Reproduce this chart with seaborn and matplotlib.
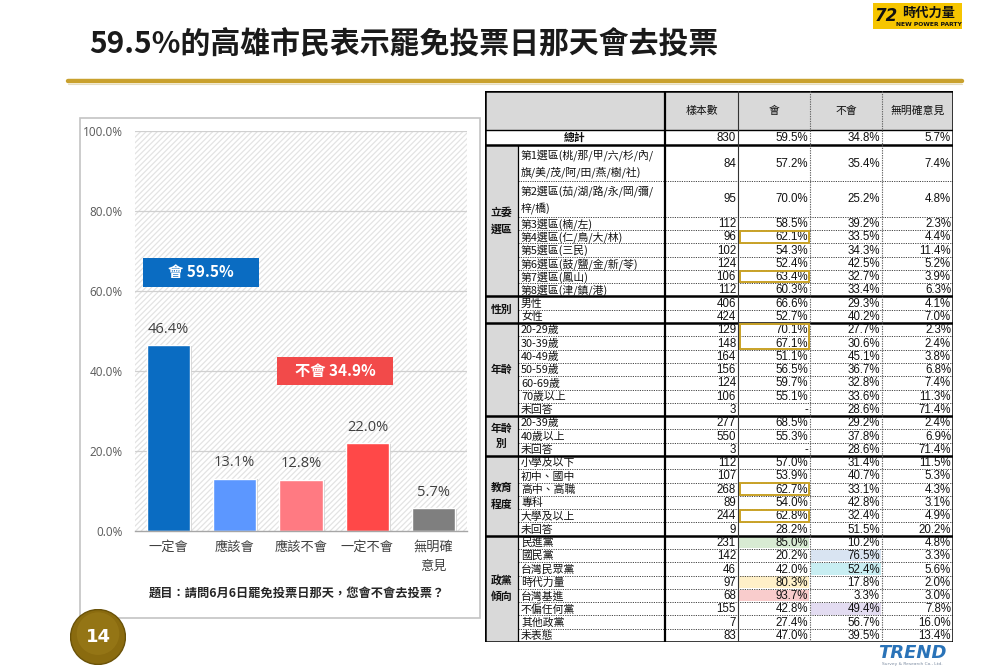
import matplotlib
matplotlib.use("Agg")
import matplotlib.pyplot as plt
import matplotlib.patheffects as pe
from matplotlib.patches import Rectangle, Circle
import seaborn as sns
import pandas as pd

# ---------------- data ----------------
title = "59.5%的高雄市民表示罷免投票日那天會去投票"
bar_cats = ["一定會", "應該會", "應該不會", "一定不會", "無明確\n意見"]
bar_vals = [46.4, 13.1, 12.8, 22.0, 5.7]
bar_colors = ["#0a6cc2", "#5c97ff", "#ff7a82", "#ff4848", "#7f7f7f"]
total_yes = 59.5
total_no = 34.9
yticks = [0, 20, 40, 60, 80, 100]
question = "題目：請問6月6日罷免投票日那天，您會不會去投票？"

table_header = ["樣本數", "會", "不會", "無明確意見"]
total_row = ["總計", 830, 59.5, 34.8, 5.7]

group_names = ["立委\n選區", "性別", "年齡", "年齡\n別", "教育\n程度", "政黨\n傾向"]
group_sizes = [8, 2, 7, 3, 6, 8]
row_labels = [
    "第1選區(桃/那/甲/六/杉/內/\n旗/美/茂/阿/田/燕/樹/社)",
    "第2選區(茄/湖/路/永/岡/彌/\n梓/橋)",
    "第3選區(楠/左)", "第4選區(仁/鳥/大/林)", "第5選區(三民)",
    "第6選區(鼓/鹽/金/新/苓)", "第7選區(鳳山)", "第8選區(津/鎮/港)",
    "男性", "女性",
    "20-29歲", "30-39歲", "40-49歲", "50-59歲", "60-69歲", "70歲以上", "未回答",
    "20-39歲", "40歲以上", "未回答",
    "小學及以下", "初中、國中", "高中、高職", "專科", "大學及以上", "未回答",
    "民進黨", "國民黨", "台灣民眾黨", "時代力量", "台灣基進", "不偏任何黨", "其他政黨", "未表態",
]
sample_n = [84, 95, 112, 96, 102, 124, 106, 112,
            406, 424,
            129, 148, 164, 156, 124, 106, 3,
            277, 550, 3,
            112, 107, 268, 89, 244, 9,
            231, 142, 46, 97, 68, 155, 7, 83]
pct_yes = [57.2, 70.0, 58.5, 62.1, 54.3, 52.4, 63.4, 60.3,
           66.6, 52.7,
           70.1, 67.1, 51.1, 56.5, 59.7, 55.1, None,
           68.5, 55.3, None,
           57.0, 53.9, 62.7, 54.0, 62.8, 28.2,
           85.0, 20.2, 42.0, 80.3, 93.7, 42.8, 27.4, 47.0]
pct_no = [35.4, 25.2, 39.2, 33.5, 34.3, 42.5, 32.7, 33.4,
          29.3, 40.2,
          27.7, 30.6, 45.1, 36.7, 32.8, 33.6, 28.6,
          29.2, 37.8, 28.6,
          31.4, 40.7, 33.1, 42.8, 32.4, 51.5,
          10.2, 76.5, 52.4, 17.8, 3.3, 49.4, 56.7, 39.5]
pct_na = [7.4, 4.8, 2.3, 4.4, 11.4, 5.2, 3.9, 6.3,
          4.1, 7.0,
          2.3, 2.4, 3.8, 6.8, 7.4, 11.3, 71.4,
          2.4, 6.9, 71.4,
          11.5, 5.3, 4.3, 3.1, 4.9, 20.2,
          4.8, 3.3, 5.6, 2.0, 3.0, 7.8, 16.0, 13.4]
# highlighted "會" cells (row index ranges, inclusive)
gold_boxes = [(3, 3), (6, 6), (10, 11), (22, 22), (24, 24)]
# shaded cells: (row index, column index 1=會 2=不會, colour)
shaded = [(26, 1, "#d8ebd3"), (27, 2, "#d9e4f2"), (28, 2, "#c8eef2"),
          (29, 1, "#fff0c8"), (30, 1, "#f9cccc"), (31, 2, "#e3dcf1")]

# ---------------- figure ----------------
sns.set_theme(style="white")
plt.rcParams["font.family"] = ["Noto Sans CJK TC", "DejaVu Sans"]
plt.rcParams["hatch.linewidth"] = 0.9
plt.rcParams["hatch.color"] = "#e3e3e3"

W, H = 1000, 667
fig = plt.figure(figsize=(10, 6.67), dpi=100)
fig.patch.set_facecolor("white")

def fx(x):
    return x / W

def fy(y):
    return 1 - y / H

# title and gold rule
fig.text(fx(89), fy(43), title, fontsize=21.5, fontweight="bold", color="#1a1a1a",
         ha="left", va="center")
fig.add_artist(plt.Line2D([fx(68), fx(962)], [fy(81), fy(81)], color="#c9a12e", lw=3.2))
fig.add_artist(plt.Line2D([fx(68), fx(962)], [fy(83.5), fy(83.5)], color="#e6dcc0", lw=0.8))

# top-right logo
fig.add_artist(Rectangle((fx(873), fy(29)), fx(89), 26 / H, facecolor="#f6c500",
                         edgecolor="none", transform=fig.transFigure))
fig.text(fx(886), fy(16), "72", fontsize=12, color="#111111", fontweight="heavy",
         ha="center", va="center", style="italic", family="DejaVu Sans")
fig.text(fx(929), fy(12.5), "時代力量", fontsize=9.5, fontweight="bold", color="#111111",
         ha="center", va="center")
fig.text(fx(929), fy(24), "NEW POWER PARTY", fontsize=4.3, fontweight="bold",
         color="#111111", ha="center", va="center", family="DejaVu Sans")

# bottom-right logo
fig.text(fx(912), fy(653), "TREND", fontsize=13, fontweight="bold", style="italic",
         color="#2a73b8", ha="center", va="center", family="DejaVu Sans")
fig.text(fx(912), fy(664), "Survey & Research Co., Ltd.", fontsize=3.2, color="#7a8aa0",
         ha="center", va="center", family="DejaVu Sans")

# chart frame
fig.add_artist(Rectangle((fx(80), fy(618)), fx(400), 500 / H, facecolor="white",
                         edgecolor="#c4c4c4", lw=1.2, transform=fig.transFigure, zorder=0))

# ---------------- bar chart ----------------
ax = fig.add_axes([fx(135), fy(531), fx(332), 400 / H])
ax.set_facecolor("none")
df = pd.DataFrame({"cat": bar_cats, "val": bar_vals})
sns.barplot(data=df, x="cat", y="val", hue="cat", palette=bar_colors, legend=False,
            width=0.65, saturation=1, ax=ax, zorder=3)
for p in ax.patches:
    p.set_path_effects([pe.SimplePatchShadow(offset=(1.5, -0.5), shadow_rgbFace="#c8c8c8",
                                             alpha=0.8), pe.Normal()])
bg = Rectangle((0, 0), 1, 1, transform=ax.transAxes, facecolor="white",
               edgecolor="#e3e3e3", hatch="//////", linewidth=0, zorder=0.5)
ax.add_artist(bg)
ax.set_xlim(-0.5, 4.5)
ax.set_ylim(0, 100)
ax.set_yticks(yticks)
ax.set_yticklabels([f"{v:.1f}%" for v in yticks], fontsize=8.5, color="#595959",
                   family=["Open Sans", "Noto Sans CJK TC"])
ax.tick_params(axis="y", length=0, pad=9)
ax.tick_params(axis="x", length=0, pad=7)
ax.set_xticks(range(len(bar_cats)))
ax.set_xticklabels(bar_cats, fontsize=9.5, color="#404040", linespacing=1.6, va="top")
for v in yticks[1:]:
    ax.axhline(v, color="#d0d0d0", lw=0.9, zorder=1)
for s in ["top", "right", "left"]:
    ax.spines[s].set_visible(False)
ax.spines["bottom"].set_color("#a6a6a6")
ax.spines["bottom"].set_linewidth(1.0)
ax.spines["bottom"].set_zorder(4)
ax.set_xlabel("")
ax.set_ylabel("")
for i, v in enumerate(bar_vals):
    ax.annotate(f"{v:.1f}%", (i, v), xytext=(0, 6), textcoords="offset points",
                ha="center", va="bottom", fontsize=10.5, color="#404040",
                family=["Open Sans", "Noto Sans CJK TC"])

# summary boxes
ax.add_patch(Rectangle((-0.38, 61.0), 1.75, 7.3, facecolor="#0a6cc2", edgecolor="none", zorder=5))
ax.text(0.495, 64.65, f"會 {total_yes:.1f}%", color="white", fontsize=11, fontweight="bold",
        ha="center", va="center", zorder=6)
ax.add_patch(Rectangle((1.64, 36.5), 1.75, 7.0, facecolor="#f24a4a", edgecolor="none", zorder=5))
ax.text(2.515, 40.0, f"不會 {total_no:.1f}%", color="white", fontsize=11, fontweight="bold",
        ha="center", va="center", zorder=6)

fig.text(fx(297), fy(593), question, fontsize=8.8, fontweight="bold", color="#262626",
         ha="center", va="center")

# page number badge
axc = fig.add_axes([fx(70), fy(665), fx(56), 56 / H])
axc.set_xlim(0, 1)
axc.set_ylim(0, 1)
axc.set_aspect("equal")
axc.axis("off")
axc.add_patch(Circle((0.5, 0.5), 0.49, facecolor="#8a6b0f", edgecolor="#6a5208", lw=1))
axc.add_patch(Circle((0.5, 0.56), 0.38, facecolor="#9c7c1a", edgecolor="none", alpha=0.6))
axc.text(0.5, 0.5, "14", color="white", fontsize=13, fontweight="bold",
         ha="center", va="center", family="DejaVu Sans")

# ---------------- table ----------------
cols = [485, 518, 665, 738, 810, 882, 953]
TOP, HDR_B, TOT_B, BOT = 91, 130, 145, 642
axt = fig.add_axes([fx(485), fy(BOT), fx(953 - 485), (BOT - TOP) / H])
axt.set_xlim(485, 953)
axt.set_ylim(BOT, TOP)
axt.axis("off")

num_font = ["Liberation Sans", "Noto Sans CJK TC"]
lab_font = ["Noto Sans CJK TC", "DejaVu Sans"]
FS = 7.8

units = [2.7 if "\n" in lab else 1.0 for lab in row_labels]
unit_h = (BOT - TOT_B) / sum(units)
row_tops = []
y = TOT_B
for u in units:
    row_tops.append(y)
    y += u * unit_h
row_bots = row_tops[1:] + [BOT]

# header
axt.add_patch(Rectangle((cols[0], TOP), cols[-1] - cols[0], HDR_B - TOP,
                        facecolor="#d9d9d9", edgecolor="none"))
for j, h in enumerate(table_header):
    axt.text((cols[j + 2] + cols[j + 3]) / 2, (TOP + HDR_B) / 2, h, fontsize=FS,
             ha="center", va="center", color="#111111", family=lab_font)
# total row
axt.text((cols[0] + cols[2]) / 2, (HDR_B + TOT_B) / 2 + 0.5, total_row[0], fontsize=FS,
         ha="center", va="center", color="#111111", family=lab_font, fontweight="bold")
tot_vals = [f"{total_row[1]}", f"{total_row[2]:.1f}%", f"{total_row[3]:.1f}%", f"{total_row[4]:.1f}%"]
for j, t in enumerate(tot_vals):
    axt.text(cols[j + 3] - 2, (HDR_B + TOT_B) / 2 + 0.5, t, fontsize=FS + 0.5, ha="right",
             va="center", color="#111111", family=num_font)

# shaded cells
for r, c, colr in shaded:
    axt.add_patch(Rectangle((cols[2 + c] + 1, row_tops[r] + 0.8), cols[3 + c] - cols[2 + c] - 2,
                            row_bots[r] - row_tops[r] - 1.6, facecolor=colr, edgecolor="none"))

# groups
start = 0
sec_bounds = []
for g, size in zip(group_names, group_sizes):
    gt, gb = row_tops[start], row_bots[start + size - 1]
    sec_bounds.append(gb)
    axt.add_patch(Rectangle((cols[0], gt), cols[1] - cols[0], gb - gt, facecolor="#d9d9d9",
                            edgecolor="none"))
    axt.text((cols[0] + cols[1]) / 2, (gt + gb) / 2, g, fontsize=FS, ha="center", va="center",
             linespacing=1.7, color="#111111", family=lab_font, fontweight="bold")
    start += size

# rows
for i, lab in enumerate(row_labels):
    yc = (row_tops[i] + row_bots[i]) / 2 + 0.6
    axt.text(cols[1] + 3, yc, lab, fontsize=FS, ha="left", va="center", linespacing=1.55,
             color="#111111", family=lab_font)
    vals = [f"{sample_n[i]}",
            "-" if pct_yes[i] is None else f"{pct_yes[i]:.1f}%",
            f"{pct_no[i]:.1f}%", f"{pct_na[i]:.1f}%"]
    for j, t in enumerate(vals):
        axt.text(cols[j + 3] - 2, yc, t, fontsize=FS + 0.5, ha="right", va="center",
                 color="#111111", family=num_font)
    if row_bots[i] not in sec_bounds:
        axt.plot([cols[1], cols[-1]], [row_bots[i], row_bots[i]], color="#444444", lw=0.7,
                 ls=(0, (1.2, 1.2)))

# gold boxes
for a, b in gold_boxes:
    axt.add_patch(Rectangle((cols[3] + 1.5, row_tops[a] + 0.8), cols[4] - cols[3] - 3,
                            row_bots[b] - row_tops[a] - 1.6, facecolor="none",
                            edgecolor="#c9a227", lw=1.4, zorder=5))

# grid lines
for yb in sec_bounds[:-1]:
    axt.plot([cols[0], cols[-1]], [yb, yb], color="black", lw=1.8)
axt.plot([cols[0], cols[-1]], [TOP, TOP], color="black", lw=1.8)
axt.plot([cols[0], cols[-1]], [HDR_B, HDR_B], color="black", lw=1.0)
axt.plot([cols[0], cols[-1]], [TOT_B, TOT_B], color="black", lw=1.8)
axt.plot([cols[0], cols[-1]], [BOT, BOT], color="black", lw=1.8)
axt.plot([cols[0], cols[0]], [TOP, BOT], color="black", lw=1.8)
axt.plot([cols[-1], cols[-1]], [TOP, BOT], color="black", lw=1.8)
axt.plot([cols[2], cols[2]], [TOP, BOT], color="black", lw=1.6)
axt.plot([cols[1], cols[1]], [TOT_B, BOT], color="black", lw=0.9)
axt.plot([cols[3], cols[3]], [TOP, BOT], color="#333333", lw=0.8)
for xc in cols[4:6]:
    axt.plot([xc, xc], [TOP, BOT], color="#666666", lw=0.8, ls=(0, (1.2, 1.0)))

fig.savefig("out.png", dpi=100, facecolor="white")
